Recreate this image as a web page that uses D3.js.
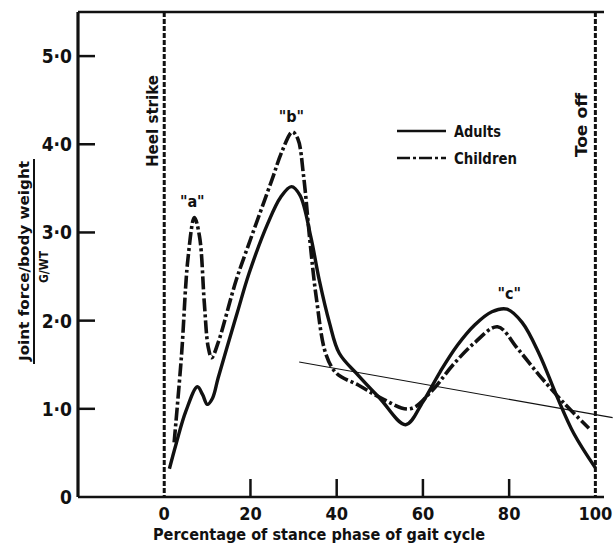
<!DOCTYPE html>
<html>
<head>
<meta charset="utf-8">
<script src="https://cdn.jsdelivr.net/npm/d3@7"></script>
<style>
  body { margin: 0; background: #fff; }
  svg text { font-family: "DejaVu Sans Condensed", "DejaVu Sans", sans-serif; font-weight: bold; fill: #111; }
</style>
</head>
<body>
<div id="chart"></div>
<script>
// values: joint force / body weight against % of stance phase
const adults = [
  [1.2, 0.32], [2.8, 0.61], [5, 0.97], [7.7, 1.25], [8.9, 1.16], [10, 1.05],
  [11.2, 1.12], [12.5, 1.35], [14.4, 1.67], [17, 2.1], [19.7, 2.54], [24, 3.1], [27, 3.4],
  [29.5, 3.52], [31.5, 3.42], [34, 2.95], [36, 2.45], [38.3, 1.98], [40.6, 1.63],
  [45, 1.38], [50, 1.12], [56, 0.82], [60, 1.08], [64, 1.42], [68, 1.72],
  [72, 1.95], [76, 2.1], [79.5, 2.13], [83, 1.98], [87, 1.62], [91, 1.15],
  [95, 0.72], [100, 0.33]
];
const children = [
  [2.3, 0.62], [4, 1.6], [5.5, 2.7], [7, 3.17], [8.2, 2.95], [9.3, 2.2],
  [10.2, 1.7], [11, 1.58], [12.5, 1.75], [16.7, 2.46], [20, 2.92], [25, 3.6],
  [27.4, 3.93], [29.7, 4.14], [31, 4.06], [32.3, 3.65], [33.8, 2.9], [35.3, 2.25],
  [37.5, 1.62], [40, 1.4], [45, 1.27], [50, 1.13], [57, 1.0], [62, 1.2], [67, 1.5],
  [72, 1.75], [77.3, 1.93], [82, 1.68], [87, 1.38], [93, 1.05], [98.5, 0.78]
];
const yTicks = [1, 2, 3, 4, 5];
const yTickLabels = ["1·0", "2·0", "3·0", "4·0", "5·0"];
const xTicks = [20, 40, 60, 80];
const xTickLabels = ["0", "20", "40", "60", "80", "100"];
const xLabelValues = [0, 20, 40, 60, 80, 100];
const events = [{ name: "Heel strike", at: 0 }, { name: "Toe off", at: 100 }];
const peaks = [
  { name: "\"a\"", x: 6.5, y: 3.17 },
  { name: "\"b\"", x: 29.5, y: 4.14 },
  { name: "\"c\"", x: 80, y: 2.13 }
];
const penLine = [[31.3, 1.53], [104, 0.9]];

const W = 613, H = 550;
const svg = d3.select("#chart").append("svg").attr("width", W).attr("height", H);

const x = d3.scaleLinear().domain([-20, 102]).range([78, 604]);
const y = d3.scaleLinear().domain([0, 5.5]).range([497, 12]);
const ink = "#111";

// frame: left axis, top rule, bottom axis
svg.append("line").attr("x1", x(-20)).attr("x2", x(-20)).attr("y1", y(5.5)).attr("y2", y(0))
  .attr("stroke", ink).attr("stroke-width", 3.2);
svg.append("line").attr("x1", x(-20)).attr("x2", x(102)).attr("y1", y(5.5)).attr("y2", y(5.5))
  .attr("stroke", ink).attr("stroke-width", 2.6);
svg.append("line").attr("x1", x(-20)).attr("x2", x(102)).attr("y1", y(0)).attr("y2", y(0))
  .attr("stroke", ink).attr("stroke-width", 2.6);

// y ticks point inward
svg.selectAll(".yt").data(yTicks).enter().append("line")
  .attr("x1", x(-20)).attr("x2", x(-20) + 17)
  .attr("y1", d => y(d)).attr("y2", d => y(d))
  .attr("stroke", ink).attr("stroke-width", 2.5);
svg.selectAll(".yl").data([0].concat(yTicks)).enter().append("text")
  .attr("x", x(-20) - 6).attr("y", d => y(d) + 7)
  .attr("text-anchor", "end").style("font-size", "19px")
  .text((d, i) => i === 0 ? "0" : yTickLabels[i - 1]);

// x ticks point up
svg.selectAll(".xt").data(xTicks).enter().append("line")
  .attr("x1", d => x(d)).attr("x2", d => x(d))
  .attr("y1", y(0)).attr("y2", y(0) - 18)
  .attr("stroke", ink).attr("stroke-width", 2.5);
svg.selectAll(".xl").data(xLabelValues).enter().append("text")
  .attr("x", d => x(d)).attr("y", 520)
  .attr("text-anchor", "middle").style("font-size", "18px")
  .text((d, i) => xTickLabels[i]);

// heel strike / toe off
svg.selectAll(".ev").data(events).enter().append("line")
  .attr("x1", d => x(d.at)).attr("x2", d => x(d.at))
  .attr("y1", y(5.5)).attr("y2", y(0))
  .attr("stroke", ink).attr("stroke-width", 3).attr("stroke-dasharray", "5,2");
svg.append("text")
  .attr("transform", `translate(${x(0) - 6},167) rotate(-90)`)
  .attr("textLength", 92).attr("lengthAdjust", "spacingAndGlyphs")
  .style("font-size", "15px").text(events[0].name);
svg.append("text")
  .attr("transform", `translate(${x(100) - 8},157) rotate(-90)`)
  .attr("textLength", 64).attr("lengthAdjust", "spacingAndGlyphs")
  .style("font-size", "15px").text(events[1].name);

// curves
const line = d3.line().x(d => x(d[0])).y(d => y(d[1])).curve(d3.curveCatmullRom.alpha(0.5));
svg.append("path").datum(adults).attr("d", line)
  .attr("fill", "none").attr("stroke", ink).attr("stroke-width", 3.4);
svg.append("path").datum(children).attr("d", line)
  .attr("fill", "none").attr("stroke", ink).attr("stroke-width", 3.6)
  .attr("stroke-dasharray", "13,3,3,3");

// stray pen stroke on the scan
svg.append("line")
  .attr("x1", x(penLine[0][0])).attr("y1", y(penLine[0][1]))
  .attr("x2", x(penLine[1][0])).attr("y2", y(penLine[1][1]))
  .attr("stroke", ink).attr("stroke-width", 1.1);

// peak labels
svg.selectAll(".pk").data(peaks).enter().append("text")
  .attr("x", d => x(d.x)).attr("y", d => y(d.y) - 10)
  .attr("text-anchor", "middle").style("font-size", "16px")
  .text(d => d.name);

// legend
const legend = [
  { name: "Adults", dash: null, yy: 131, len: 47 },
  { name: "Children", dash: "13,3,3,3", yy: 158, len: 63 }
];
const lg = svg.selectAll(".lg").data(legend).enter().append("g");
lg.append("line").attr("x1", 397).attr("x2", 446)
  .attr("y1", d => d.yy).attr("y2", d => d.yy)
  .attr("stroke", ink).attr("stroke-width", 2.6)
  .attr("stroke-dasharray", d => d.dash);
lg.append("text").attr("x", 454).attr("y", d => d.yy + 6)
  .attr("textLength", d => d.len).attr("lengthAdjust", "spacingAndGlyphs")
  .style("font-size", "15px").text(d => d.name);

// axis titles
svg.append("text").attr("x", 153).attr("y", 540)
  .attr("textLength", 332).attr("lengthAdjust", "spacingAndGlyphs")
  .style("font-size", "15px").text("Percentage of stance phase of gait cycle");
svg.append("text")
  .attr("transform", "translate(29,361) rotate(-90)")
  .attr("textLength", 200).attr("lengthAdjust", "spacingAndGlyphs")
  .style("font-size", "14px").text("Joint force/body weight");
svg.append("line").attr("x1", 34).attr("x2", 34).attr("y1", 159).attr("y2", 364)
  .attr("stroke", ink).attr("stroke-width", 2);
svg.append("text")
  .attr("transform", "translate(48,267) rotate(-90)")
  .attr("text-anchor", "middle")
  .style("font-size", "12px").text("G/WT");
</script>
</body>
</html>
